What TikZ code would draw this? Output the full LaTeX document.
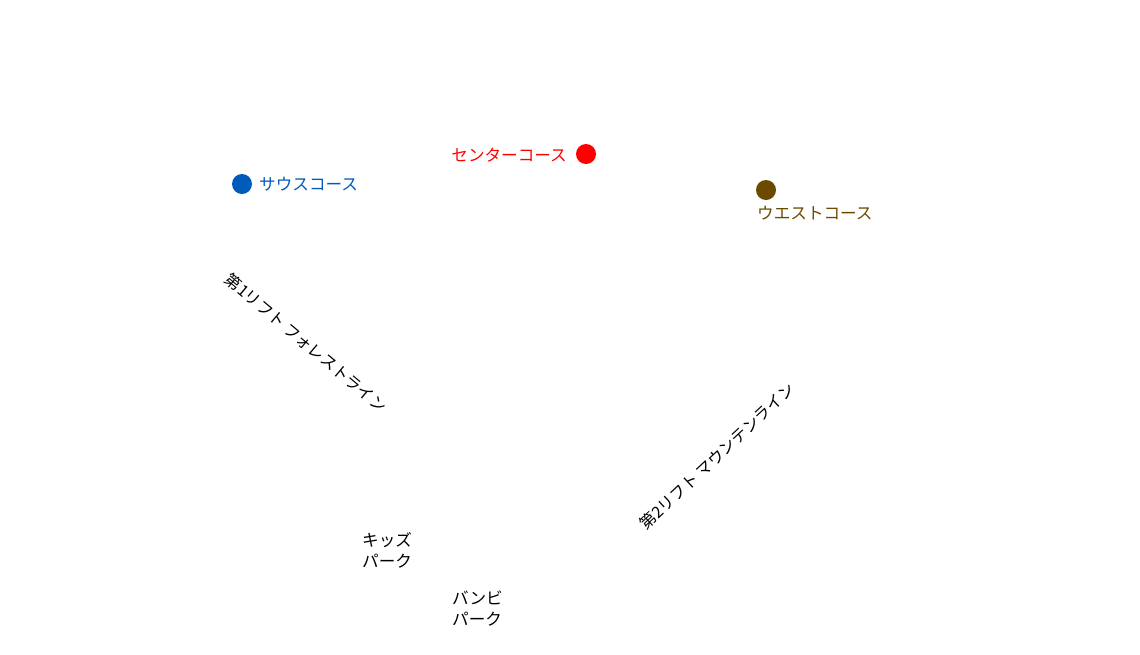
\documentclass[tikz,border=0pt]{standalone}
\usepackage{fontspec}
\setmainfont{Noto Sans CJK JP}
\definecolor{southblue}{HTML}{005BBB}
\definecolor{centerred}{HTML}{FF0000}
\definecolor{westbrown}{HTML}{6B4A00}
\tikzset{
  dot/.style={circle,inner sep=0pt,minimum size=20pt},
  lbl/.style={inner sep=0pt,font=\fontsize{16.6}{21}\selectfont},
  lift/.style={inner sep=0pt,font=\fontsize{16}{20}\selectfont},
}
\begin{document}
\begin{tikzpicture}[x=1pt,y=-1pt]
\useasboundingbox[fill=white] (0,0) rectangle (1140,654);
\node[dot,fill=southblue] (sdot) at (242,184) {};
\node[lbl,text=southblue,anchor=west] (slbl) at (259,184) {サウスコース};
\node[dot,fill=centerred] (cdot) at (586,154) {};
\node[lbl,text=centerred,anchor=east] (clbl) at (567,155) {センターコース};
\node[dot,fill=westbrown] (wdot) at (766,190) {};
\node[lbl,text=westbrown,anchor=west] (wlbl) at (757,213) {ウエストコース};
\node[lift,rotate=-40] (lift1) at (306,343) {第1リフト フォレストライン};
\node[lift,rotate=43] (lift2) at (717,456) {第2リフト マウンテンライン};
\node[lbl,align=left,anchor=north west] (kids) at (362,532) {キッズ\\パーク};
\node[lbl,align=left,anchor=north west] (bambi) at (452,591) {バンビ\\パーク};
\end{tikzpicture}
\end{document}
